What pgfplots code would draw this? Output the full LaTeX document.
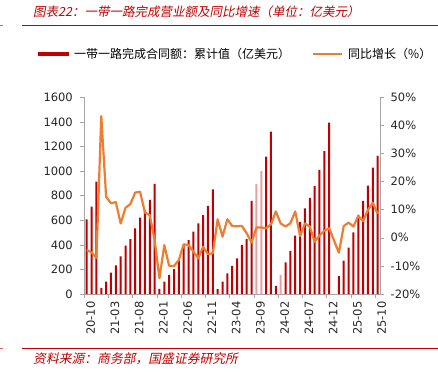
\documentclass[border=0pt]{standalone}
\usepackage{pgfplots}
\pgfplotsset{compat=1.18}
\usepackage{pgfplotstable}
\usepackage{fontspec}
\setmainfont{DejaVu Sans}
\newfontfamily\cjk{Noto Sans CJK SC}
\newfontfamily\cjkit[FakeSlant=0.2]{Noto Sans CJK SC}
\definecolor{barred}{HTML}{C00000}
\definecolor{barlight}{HTML}{E6A0A0}
\definecolor{lineor}{HTML}{ED7D31}
\definecolor{axgray}{HTML}{A6A6A6}
\definecolor{titred}{HTML}{C00000}

% dark bars (index 0 = 2020-10)
\pgfplotstableread{
i val
0 607
1 710
2 914
3 49
4 100
5 174
6 233
7 306
8 393
9 447
10 534
11 621
12 680
13 765
14 895
15 41
16 100
17 155
18 203
19 273
20 400
21 439
22 507
23 575
24 642
25 716
26 852
27 40
28 100
29 168
30 228
31 290
32 399
33 447
34 757
37 1117
38 1321
39 66
41 258
42 350
43 475
44 586
45 697
46 781
47 878
48 1009
49 1163
50 1394
52 146
53 271
54 377
55 502
56 643
57 757
58 881
59 1028
60 1123
}\bardark

% light bars
\pgfplotstableread{
i val
35 893
36 1002
40 155
}\barlight

% year-on-year growth (%)
\pgfplotstableread{
i yoy
0 -4.3
1 -5.2
2 -7.1
3 43.3
4 14.6
5 12.3
6 12.7
7 5.1
8 10.7
9 12.0
10 16.1
11 16.4
12 9.0
13 8.1
14 -0.8
15 -14.4
16 -2.6
17 -10.0
18 -10.0
19 -7.9
20 -2.3
21 -2.6
22 -4.9
23 -7.3
24 -3.2
25 -5.8
26 -5.5
27 6.6
28 0.4
29 6.6
30 4.2
31 4.1
32 4.2
33 1.6
34 -1.7
35 3.7
36 3.7
37 3.4
38 4.8
39 9.4
40 5.1
41 4.0
42 5.2
43 9.4
44 0.6
45 5.1
46 4.0
47 -1.4
48 0.8
49 2.5
50 3.4
52 -5.3
53 4.2
54 5.4
55 4.0
56 7.8
57 6.0
58 9.9
59 12.5
60 8.5
}\yoydata

\begin{document}
\begin{tikzpicture}
\path[use as bounding box] (0,0) rectangle (438pt,373pt);

\pgfplotsset{
  common/.style={
    at={(84.3pt,79pt)}, anchor=south west,
    scale only axis, width=295.8pt, height=196.7pt,
    xmin=-0.5, xmax=60.5,
    tick align=outside,
    major tick length=4pt, minor tick length=4pt,
    tick style={axgray, line width=0.6pt},
    axis line style={draw=axgray, line width=0.8pt, -},
    tick label style={font=\fontsize{11.5}{12}\selectfont, text=black!85},
    /pgf/number format/assume math mode=true,
  }
}

\begin{axis}[common,
  ymin=0, ymax=1600, ytick={0,200,...,1600},
  axis x line*=bottom, axis y line*=left,
  xtick={0,5,...,60},
  xticklabels={20-10,21-03,21-08,22-01,22-06,22-11,23-04,23-09,24-02,24-07,24-12,25-05,25-10},
  major x tick style={draw=none},
  minor xtick={-0.5,4.5,...,60.5},
  x tick label style={rotate=90, anchor=east},
  yticklabel style={xshift=-4pt},
  xticklabel style={yshift=-4pt},
  /pgf/number format/1000 sep={},
]
\addplot[ybar, bar width=2pt, bar shift=0pt, fill=barred, draw=none] table[x=i,y=val]{\bardark};
\addplot[ybar, bar width=2pt, bar shift=0pt, fill=barlight, draw=none] table[x=i,y=val]{\barlight};
\end{axis}

\begin{axis}[common,
  ymin=-20, ymax=50, ytick={-20,-10,...,50},
  axis x line=none, axis y line*=right,
  yticklabel={\pgfmathprintnumber{\tick}\%},
  yticklabel style={xshift=3pt},
]
\addplot[lineor, line width=2.2pt, line join=round] table[x=i,y=yoy]{\yoydata};
\end{axis}

% title and rules
\node[anchor=west, inner sep=0pt, text=titred] at (33pt,361pt)
  {\cjkit\fontsize{12.5}{14}\selectfont 图表22：一带一路完成营业额及同比增速（单位：亿美元）};
\draw[titred, line width=0.9pt] (21.7pt,348pt) -- (438pt,348pt);
\draw[titred!60, line width=0.9pt] (0pt,348pt) -- (3pt,348pt);

% legend
\fill[barred] (38pt,316.8pt) rectangle (69pt,321.3pt);
\node[anchor=west, inner sep=0pt] at (74pt,319pt)
  {\cjk\fontsize{12}{14}\selectfont 一带一路完成合同额：累计值（亿美元）};
\draw[lineor, line width=2.2pt] (313pt,319pt) -- (342pt,319pt);
\node[anchor=west, inner sep=0pt] at (348pt,319pt)
  {\cjk\fontsize{12}{14}\selectfont 同比增长（\%）};

% footer
\draw[titred, line width=0.9pt] (21.7pt,24.7pt) -- (438pt,24.7pt);
\draw[titred!60, line width=0.9pt] (0pt,24.7pt) -- (3pt,24.7pt);
\node[anchor=west, inner sep=0pt, text=titred] at (33pt,14.7pt)
  {\cjkit\fontsize{12.8}{14}\selectfont 资料来源：商务部，国盛证券研究所};
\end{tikzpicture}
\end{document}
